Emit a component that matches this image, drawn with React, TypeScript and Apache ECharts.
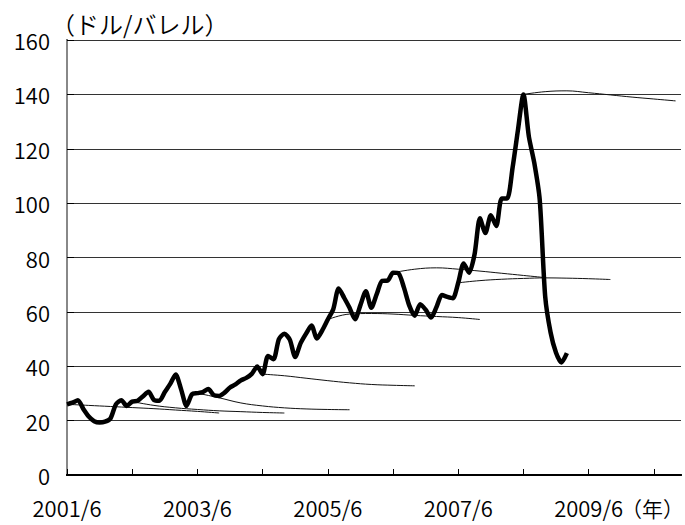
import React, { useEffect, useRef } from 'react';
import * as echarts from 'echarts';

// ---- data ----
const START_LABEL = '2001/6';
const AXIS_END_LABEL = '2010/11';

// monthly spot price (USD/barrel), 2001/6 .. 2009/2
const spotPrices = [
  26.0, 26.6, 27.5, 24.3, 21.5, 19.8, 19.3, 19.6, 20.8, 26.0,
  27.5, 25.4, 27.0, 27.3, 29.0, 30.6, 27.6, 27.3, 30.5, 33.5,
  37.0, 31.5, 25.4, 29.7, 30.1, 30.5, 31.6, 29.4, 29.1, 30.3,
  32.2, 33.3, 34.8, 35.7, 37.2, 39.9, 37.1, 43.8, 42.6, 50.0,
  52.0, 49.8, 43.4, 48.5, 52.0, 55.0, 50.2, 53.3, 57.2, 61.0,
  68.6, 65.2, 61.5, 57.3, 62.5, 67.6, 61.5, 66.5, 71.4, 71.5,
  74.4, 74.2, 69.0, 62.3, 58.6, 62.8, 60.8, 57.9, 61.8, 66.2,
  65.5, 65.0, 70.7, 77.8, 74.4, 81.1, 94.4, 89.0, 95.5, 91.6,
  101.7, 101.7, 113.0, 127.0, 140.0, 124.5, 114.8, 101.3, 65.8, 52.4,
  45.0, 41.4, 44.8,
];

// futures curves: start month and values every 4 months over 28 months
const futuresStarts = ['2001/6', '2002/6', '2003/6', '2004/6', '2005/6', '2006/6', '2007/6', '2008/6'];
const futuresStepMonths = 4;
const futures2001 = [26.0, 25.6, 25.2, 24.8, 24.4, 23.9, 23.4, 22.8];
const futures2002 = [27.0, 25.6, 24.7, 24.1, 23.6, 23.3, 23.0, 22.8];
const futures2003 = [30.1, 28.4, 26.5, 25.4, 24.7, 24.3, 24.1, 24.0];
const futures2004 = [37.1, 36.5, 35.6, 34.7, 33.9, 33.3, 33.0, 32.8];
const futures2005 = [57.2, 59.2, 59.4, 59.2, 58.7, 58.3, 57.9, 57.2];
const futures2006 = [74.4, 75.7, 76.2, 75.7, 75.0, 74.2, 73.4, 72.6];
const futures2007 = [70.7, 71.5, 72.0, 72.3, 72.5, 72.4, 72.2, 71.9];
const futures2008 = [140.0, 141.0, 141.3, 140.6, 139.8, 139.0, 138.3, 137.6];
const futuresCurves = [futures2001, futures2002, futures2003, futures2004, futures2005, futures2006, futures2007, futures2008];

const xTickLabels = ['2001/6', '2003/6', '2005/6', '2007/6', '2009/6'];
const yTicks = [0, 20, 40, 60, 80, 100, 120, 140, 160];
const unitLabel = '（ドル/バレル）';
const yearLabel = '（年）';

function monthIndex(label: string): number {
  const [y, m] = label.split('/').map(Number);
  const [y0, m0] = START_LABEL.split('/').map(Number);
  return (y - y0) * 12 + (m - m0);
}

const NUM_FONT = "'Noto Sans CJK JP', sans-serif";
const JP_FONT = "'Noto Sans CJK JP', sans-serif";
const FONT_WEIGHT = 350;

export default function App() {
  const ref = useRef<HTMLDivElement>(null);

  useEffect(() => {
    if (!ref.current) return;
    const chart = echarts.init(ref.current, undefined, { renderer: 'svg' });

    const spotData = spotPrices.map((v, i) => [i, v]);
    const futSeries = futuresCurves.map((vals, k) => {
      const s = monthIndex(futuresStarts[k]);
      return {
        type: 'line',
        name: 'futures ' + futuresStarts[k],
        data: vals.map((v, j) => [s + j * futuresStepMonths, v]),
        smooth: 0.4,
        showSymbol: false,
        symbol: 'none',
        lineStyle: { color: '#111', width: 1 },
        z: 3,
      };
    });

    const xMax = monthIndex(AXIS_END_LABEL);
    const yMax = yTicks[yTicks.length - 1];

    chart.setOption({
      animation: false,
      grid: { left: 67, right: 4, top: 40, bottom: 50 },
      xAxis: [
        {
          type: 'value',
          min: 0,
          max: xMax,
          interval: 12,
          axisLine: { show: true, lineStyle: { color: '#000', width: 2 } },
          axisTick: { show: true, inside: true, length: 6, lineStyle: { color: '#000', width: 1 } },
          splitLine: { show: false },
          axisLabel: {
            margin: 21,
            fontSize: 22,
            fontWeight: FONT_WEIGHT,
            color: '#000',
            fontFamily: NUM_FONT,
            showMaxLabel: false,
            formatter: (v: number) => {
              const l = xTickLabels.find((t) => monthIndex(t) === v);
              return l ?? '';
            },
          },
        },
        {
          type: 'value',
          position: 'top',
          min: 0,
          max: xMax,
          axisLine: { show: true, lineStyle: { color: '#000', width: 2 } },
          axisTick: { show: false },
          axisLabel: { show: false },
          splitLine: { show: false },
        },
      ],
      yAxis: [
        {
          type: 'value',
          min: 0,
          max: yMax,
          interval: 20,
          axisLine: { show: true, lineStyle: { color: '#000', width: 2 } },
          axisTick: { show: true, inside: true, length: 7, lineStyle: { color: '#000', width: 1 } },
          splitLine: { show: true, lineStyle: { color: '#333', width: 1 } },
          axisLabel: { margin: 17, fontSize: 22, fontWeight: FONT_WEIGHT, color: '#000', fontFamily: NUM_FONT },
        },
        {
          type: 'value',
          position: 'right',
          min: 0,
          max: yMax,
          axisLine: { show: true, lineStyle: { color: '#888', width: 2 } },
          axisTick: { show: false },
          axisLabel: { show: false },
          splitLine: { show: false },
        },
      ],
      graphic: [
        {
          type: 'text',
          left: 51,
          top: 11,
          style: { text: unitLabel, fontSize: 24, fontWeight: FONT_WEIGHT, fill: '#000', fontFamily: JP_FONT },
        },
        {
          type: 'text',
          right: 1,
          top: 497,
          style: { text: yearLabel, fontSize: 21, fontWeight: FONT_WEIGHT, fill: '#000', fontFamily: JP_FONT },
        },
      ],
      series: [
        ...futSeries,
        {
          type: 'line',
          name: 'spot',
          data: spotData,
          smooth: 0.25,
          showSymbol: false,
          symbol: 'none',
          lineStyle: { color: '#000', width: 4.5 },
          z: 5,
        },
      ],
    });

    return () => chart.dispose();
  }, []);

  return <div ref={ref} style={{ width: 685, height: 525, position: 'absolute', left: 0, top: 0 }} />;
}
